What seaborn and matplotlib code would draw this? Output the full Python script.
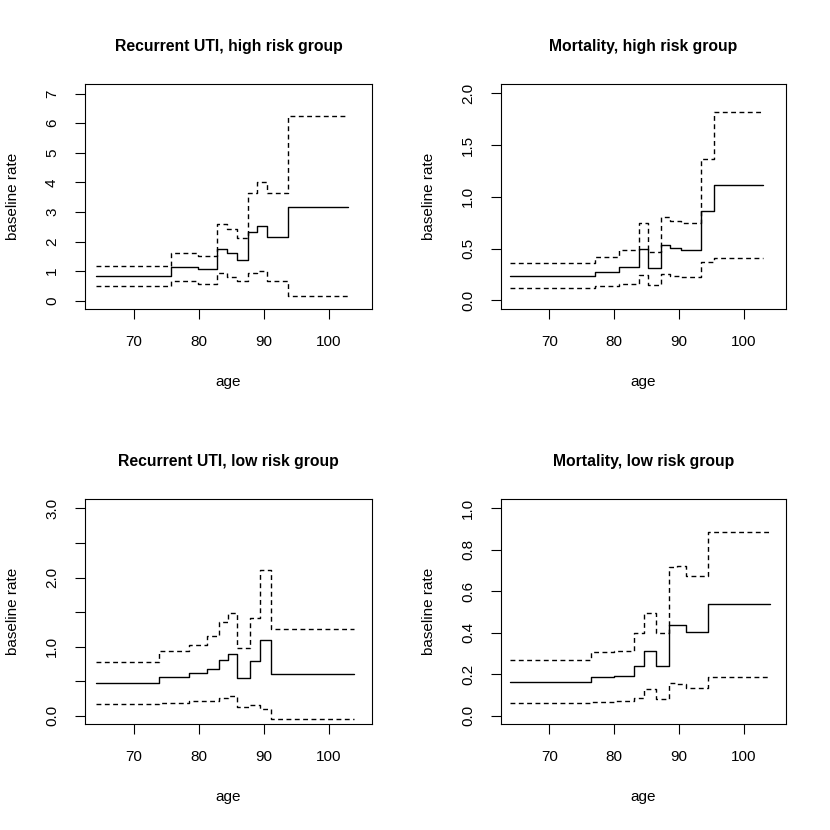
import numpy as np
import pandas as pd
import matplotlib
matplotlib.use("Agg")
import matplotlib.pyplot as plt
import seaborn as sns

# -----------------------------
# Step data (age breaks, rate, lower, upper)
# -----------------------------
uti_high_age = [64.1, 75.7, 79.9, 82.8, 84.3, 85.9, 87.6, 88.9, 90.5, 93.7, 102.9]
uti_high_rate = [0.84, 1.14, 1.06, 1.74, 1.62, 1.39, 2.32, 2.51, 2.16, 3.18]
uti_high_low = [0.51, 0.67, 0.58, 0.92, 0.81, 0.65, 0.94, 1.01, 0.65, 0.15]
uti_high_up = [1.18, 1.62, 1.52, 2.58, 2.43, 2.11, 3.64, 4.02, 3.63, 6.24]

mort_high_age = [63.9, 77.1, 80.8, 83.9, 85.2, 87.3, 88.6, 90.3, 93.4, 95.4, 103.0]
mort_high_rate = [0.235, 0.277, 0.319, 0.493, 0.309, 0.531, 0.506, 0.486, 0.863, 1.114]
mort_high_low = [0.119, 0.138, 0.161, 0.242, 0.151, 0.251, 0.238, 0.229, 0.370, 0.409]
mort_high_up = [0.357, 0.419, 0.483, 0.747, 0.470, 0.805, 0.770, 0.744, 1.362, 1.816]

uti_low_age = [64.1, 73.9, 78.5, 81.3, 83.1, 84.4, 85.9, 87.9, 89.3, 91.1, 103.9]
uti_low_rate = [0.478, 0.56, 0.613, 0.68, 0.80, 0.888, 0.54, 0.79, 1.10, 0.608]
uti_low_low = [0.174, 0.178, 0.207, 0.207, 0.25, 0.29, 0.12, 0.16, 0.097, -0.043]
uti_low_up = [0.777, 0.94, 1.018, 1.158, 1.35, 1.48, 0.974, 1.42, 2.11, 1.25]

mort_low_age = [63.9, 76.4, 80.0, 83.1, 84.6, 86.4, 88.4, 89.7, 91.1, 94.5, 104.0]
mort_low_rate = [0.164, 0.186, 0.19, 0.241, 0.313, 0.241, 0.437, 0.437, 0.402, 0.537]
mort_low_low = [0.059, 0.066, 0.069, 0.084, 0.13, 0.079, 0.156, 0.152, 0.132, 0.186]
mort_low_up = [0.27, 0.307, 0.31, 0.399, 0.497, 0.40, 0.715, 0.723, 0.674, 0.884]

panels = [
    ("Recurrent UTI, high risk group", uti_high_age, uti_high_rate, uti_high_low, uti_high_up,
     (62.46, 106.6), (-0.28, 7.32), [0, 1, 2, 3, 4, 5, 6, 7], None),
    ("Mortality, high risk group", mort_high_age, mort_high_rate, mort_high_low, mort_high_up,
     (62.55, 106.5), (-0.084, 2.09), [0.0, 0.5, 1.0, 1.5, 2.0], None),
    ("Recurrent UTI, low risk group", uti_low_age, uti_low_rate, uti_low_low, uti_low_up,
     (62.46, 106.6), (-0.12, 3.136), [0.0, 0.5, 1.0, 1.5, 2.0, 2.5, 3.0],
     ["0.0", "", "1.0", "", "2.0", "", "3.0"]),
    ("Mortality, low risk group", mort_low_age, mort_low_rate, mort_low_low, mort_low_up,
     (62.55, 106.5), (-0.04, 1.045), [0.0, 0.2, 0.4, 0.6, 0.8, 1.0], None),
]

sns.set_style("ticks")
plt.rcParams["font.family"] = ["Liberation Sans", "DejaVu Sans"]
plt.rcParams["text.color"] = "black"
plt.rcParams["axes.labelcolor"] = "black"

fig = plt.figure(figsize=(8.3, 8.3), dpi=100)
positions = [
    [0.1024, 0.6277, 0.3458, 0.271],
    [0.6036, 0.6277, 0.3434, 0.271],
    [0.1024, 0.1277, 0.3458, 0.271],
    [0.6036, 0.1277, 0.3434, 0.271],
]

for pos, (title, age, rate, low, up, xlim, ylim, yticks, ylabels) in zip(positions, panels):
    ax = fig.add_axes(pos)
    df = pd.DataFrame({
        "age": age,
        "rate": rate + [rate[-1]],
        "low": low + [low[-1]],
        "up": up + [up[-1]],
    })
    sns.lineplot(data=df, x="age", y="rate", ax=ax, color="black", lw=1.0,
                 drawstyle="steps-post")
    for col in ["low", "up"]:
        sns.lineplot(data=df, x="age", y=col, ax=ax, color="black", lw=1.0,
                     drawstyle="steps-post", linestyle=(0, (3.5, 2.5)))
    ax.set_xlim(*xlim)
    ax.set_ylim(*ylim)
    ax.set_xticks([70, 80, 90, 100])
    ax.set_yticks(yticks)
    if ylabels is not None:
        ax.set_yticklabels(ylabels)
    else:
        ax.set_yticklabels([("%g" % t) if isinstance(t, int) else ("%.1f" % t) for t in yticks])
    for lbl in ax.get_yticklabels():
        lbl.set_rotation(90)
        lbl.set_va("center")
    ax.tick_params(direction="out", length=7.2, width=0.8, labelsize=11, colors="black", pad=11.5)
    for sp in ax.spines.values():
        sp.set_visible(True)
        sp.set_linewidth(0.8)
        sp.set_color("black")
    ax.set_title(title, fontsize=11.3, fontweight="bold", pad=24, color="black")
    ax.set_xlabel("age", fontsize=11, labelpad=19)
    ax.set_ylabel("baseline rate", fontsize=11, labelpad=18)

fig.savefig("out.png", dpi=100, facecolor="white")
